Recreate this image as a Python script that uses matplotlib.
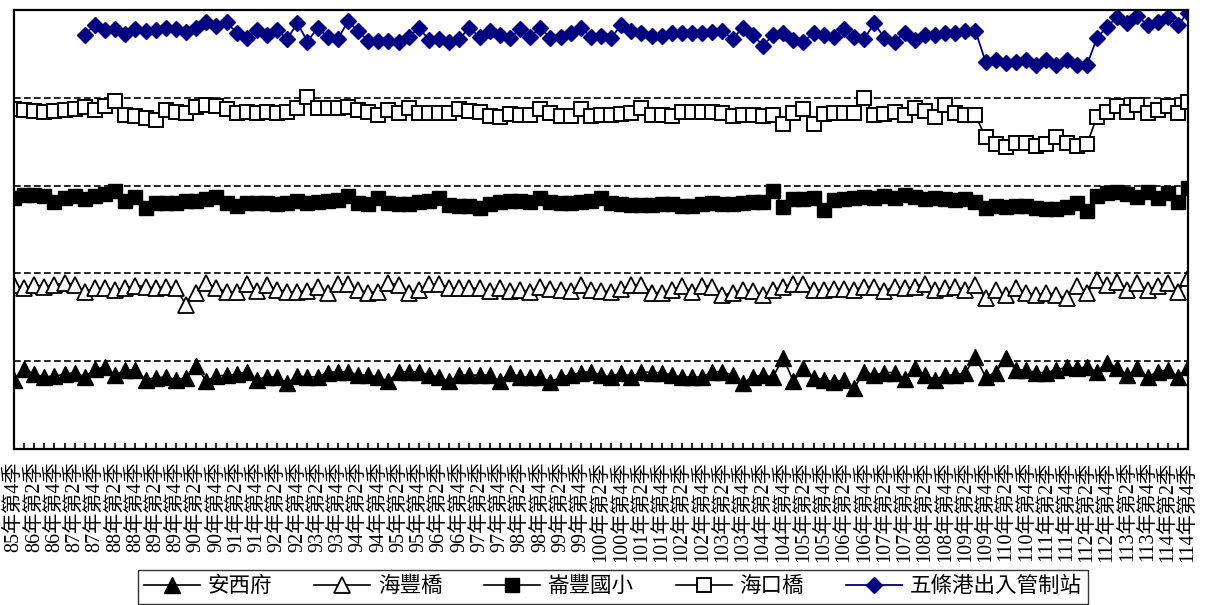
import matplotlib
matplotlib.use('Agg')
import matplotlib.pyplot as plt
import numpy as np

# quarters 85年第4季 .. 114年第4季
quarters = [(85, 4)] + [(y, q) for y in range(86, 115) for q in (1, 2, 3, 4)]
tick_labels = ['%d年第%d季' % (y, q) for (y, q) in quarters]

# 安西府
anxifu = [0.79, 0.91, 0.85, 0.82, 0.83, 0.85, 0.87, 0.82, 0.91, 0.93,
          0.84, 0.90, 0.90, 0.79, 0.81, 0.82, 0.79, 0.81, 0.95, 0.77,
          0.83, 0.84, 0.85, 0.88, 0.79, 0.82, 0.82, 0.75, 0.83, 0.82,
          0.82, 0.87, 0.88, 0.88, 0.84, 0.84, 0.82, 0.77, 0.88, 0.88,
          0.88, 0.84, 0.82, 0.77, 0.84, 0.84, 0.84, 0.84, 0.77, 0.87,
          0.82, 0.82, 0.82, 0.76, 0.82, 0.84, 0.87, 0.88, 0.84, 0.82,
          0.87, 0.82, 0.88, 0.87, 0.87, 0.84, 0.82, 0.82, 0.82, 0.88,
          0.88, 0.84, 0.75, 0.82, 0.84, 0.82, 1.04, 0.77, 0.92, 0.81,
          0.79, 0.76, 0.79, 0.69, 0.88, 0.84, 0.87, 0.87, 0.80, 0.92,
          0.84, 0.79, 0.84, 0.84, 0.87, 1.05, 0.82, 0.87, 1.04, 0.90,
          0.90, 0.87, 0.87, 0.90, 0.93, 0.92, 0.93, 0.88, 0.98, 0.92,
          0.84, 0.92, 0.82, 0.88, 0.90, 0.82, 0.93]

# 海豐橋
haifeng = [1.87, 1.83, 1.87, 1.85, 1.87, 1.89, 1.87, 1.79, 1.83, 1.83,
           1.81, 1.83, 1.86, 1.85, 1.83, 1.85, 1.83, 1.64, 1.78, 1.89,
           1.83, 1.79, 1.79, 1.88, 1.80, 1.87, 1.81, 1.79, 1.79, 1.80,
           1.85, 1.78, 1.88, 1.88, 1.81, 1.78, 1.79, 1.89, 1.87, 1.78,
           1.81, 1.88, 1.88, 1.83, 1.83, 1.83, 1.83, 1.80, 1.83, 1.80,
           1.81, 1.79, 1.85, 1.82, 1.81, 1.80, 1.87, 1.81, 1.80, 1.79,
           1.82, 1.87, 1.87, 1.78, 1.78, 1.81, 1.86, 1.79, 1.86, 1.85,
           1.75, 1.78, 1.81, 1.80, 1.75, 1.81, 1.85, 1.88, 1.88, 1.81,
           1.81, 1.82, 1.82, 1.81, 1.85, 1.85, 1.80, 1.85, 1.83, 1.85,
           1.88, 1.81, 1.83, 1.85, 1.81, 1.87, 1.72, 1.81, 1.75, 1.83,
           1.78, 1.75, 1.78, 1.75, 1.72, 1.86, 1.78, 1.92, 1.87, 1.90,
           1.81, 1.89, 1.81, 1.86, 1.89, 1.79, 1.95]

# 崙豐國小
lunfeng = [2.86, 2.89, 2.89, 2.88, 2.81, 2.86, 2.88, 2.85, 2.88, 2.90,
           2.94, 2.82, 2.87, 2.74, 2.80, 2.80, 2.80, 2.82, 2.82, 2.85,
           2.87, 2.80, 2.77, 2.80, 2.80, 2.80, 2.79, 2.80, 2.82, 2.80,
           2.81, 2.82, 2.84, 2.88, 2.80, 2.79, 2.86, 2.80, 2.79, 2.79,
           2.81, 2.82, 2.86, 2.78, 2.77, 2.77, 2.74, 2.79, 2.81, 2.82,
           2.82, 2.81, 2.86, 2.81, 2.80, 2.80, 2.81, 2.82, 2.86, 2.80,
           2.79, 2.78, 2.78, 2.78, 2.79, 2.79, 2.77, 2.77, 2.79, 2.80,
           2.79, 2.79, 2.80, 2.81, 2.81, 2.94, 2.76, 2.85, 2.85, 2.86,
           2.72, 2.84, 2.85, 2.86, 2.87, 2.86, 2.88, 2.86, 2.89, 2.87,
           2.85, 2.86, 2.85, 2.84, 2.85, 2.81, 2.74, 2.77, 2.76, 2.77,
           2.77, 2.74, 2.73, 2.73, 2.76, 2.80, 2.71, 2.88, 2.92, 2.93,
           2.90, 2.87, 2.93, 2.86, 2.92, 2.81, 2.97]

# 海口橋
haikou = [3.87, 3.86, 3.85, 3.84, 3.85, 3.86, 3.87, 3.90, 3.86, 3.91,
          3.96, 3.80, 3.79, 3.77, 3.75, 3.86, 3.84, 3.83, 3.90, 3.92,
          3.91, 3.87, 3.83, 3.84, 3.83, 3.84, 3.83, 3.84, 3.88, 4.01,
          3.88, 3.88, 3.88, 3.90, 3.86, 3.84, 3.80, 3.86, 3.83, 3.88,
          3.83, 3.83, 3.83, 3.83, 3.87, 3.85, 3.84, 3.79, 3.78, 3.82,
          3.80, 3.80, 3.87, 3.83, 3.79, 3.79, 3.87, 3.79, 3.80, 3.80,
          3.82, 3.83, 3.88, 3.80, 3.80, 3.79, 3.84, 3.84, 3.84, 3.84,
          3.83, 3.79, 3.80, 3.80, 3.79, 3.80, 3.70, 3.83, 3.87, 3.70,
          3.82, 3.83, 3.83, 3.83, 4.00, 3.80, 3.82, 3.84, 3.80, 3.88,
          3.85, 3.78, 3.92, 3.83, 3.80, 3.80, 3.55, 3.47, 3.44, 3.49,
          3.49, 3.45, 3.47, 3.55, 3.49, 3.45, 3.47, 3.78, 3.84, 3.91,
          3.84, 3.92, 3.83, 3.86, 3.91, 3.83, 3.95]

# 五條港出入管制站 (no data before 87年第3季)
wutiaogang = [np.nan] * 7 + [
    4.72, 4.83, 4.77, 4.78, 4.73, 4.78, 4.76, 4.77, 4.80, 4.78,
    4.75, 4.80, 4.86, 4.82, 4.86, 4.74, 4.68, 4.77, 4.72, 4.77,
    4.67, 4.85, 4.64, 4.80, 4.69, 4.67, 4.87, 4.76, 4.65, 4.65,
    4.65, 4.64, 4.69, 4.80, 4.66, 4.67, 4.64, 4.67, 4.80, 4.69,
    4.76, 4.72, 4.68, 4.78, 4.69, 4.80, 4.68, 4.69, 4.74, 4.80,
    4.69, 4.70, 4.68, 4.83, 4.76, 4.74, 4.70, 4.70, 4.74, 4.74,
    4.74, 4.74, 4.75, 4.76, 4.67, 4.80, 4.72, 4.59, 4.72, 4.74,
    4.66, 4.64, 4.74, 4.72, 4.69, 4.78, 4.69, 4.67, 4.85, 4.68,
    4.64, 4.74, 4.66, 4.72, 4.72, 4.74, 4.74, 4.76, 4.76, 4.41,
    4.43, 4.40, 4.41, 4.43, 4.37, 4.43, 4.37, 4.43, 4.37, 4.37,
    4.68, 4.81, 4.92, 4.85, 4.93, 4.83, 4.86, 4.92, 4.83, 4.97]

fonts = ['Liberation Serif', 'Noto Sans CJK TC', 'DejaVu Sans']
plt.rcParams['font.family'] = fonts

x = np.arange(len(quarters))

fig = plt.figure(figsize=(12.15, 6.05), dpi=100)
ax = fig.add_axes([0.0115, 0.258, 0.9663, 0.7255])

ax.plot(x, anxifu, color='black', lw=1.2, marker='^', ms=11,
        mfc='black', mec='black', label='安西府')
ax.plot(x, haifeng, color='black', lw=1.2, marker='^', ms=11,
        mfc='white', mec='black', mew=1.3, label='海豐橋')
ax.plot(x, lunfeng, color='black', lw=1.2, marker='s', ms=10,
        mfc='black', mec='black', label='崙豐國小')
ax.plot(x, haikou, color='black', lw=1.2, marker='s', ms=10,
        mfc='white', mec='black', mew=1.4, label='海口橋')
ax.plot(x, wutiaogang, color='#000080', lw=1.3, marker='D', ms=8.5,
        mfc='#000080', mec='#000080', label='五條港出入管制站')

ax.set_xlim(0, len(quarters) - 1)
ax.set_ylim(0, 5)

ax.set_yticks([1, 2, 3, 4])
ax.set_yticklabels([])
ax.tick_params(axis='y', length=0)
ax.yaxis.grid(True, color='black', ls=(0, (4, 2)), lw=1.2)
ax.set_axisbelow(True)

ax.set_xticks(x[::2])
ax.set_xticklabels(tick_labels[::2], rotation=90, fontsize=14.5, va='top')
ax.set_xticks(x[1::2], minor=True)
ax.tick_params(axis='x', which='both', direction='in', length=4, width=1.2,
               pad=9, bottom=True, top=False)

for s in ax.spines.values():
    s.set_linewidth(1.6)
    s.set_color('black')

leg = fig.legend(loc='center', bbox_to_anchor=(0.5045, 0.0298), ncol=5,
                 fontsize=15.5, frameon=True, fancybox=False, edgecolor='black',
                 handlelength=2.6, handletextpad=0.35, columnspacing=1.95,
                 borderpad=0.3)
leg.get_frame().set_linewidth(1.0)

plt.savefig('out.png', dpi=100)
